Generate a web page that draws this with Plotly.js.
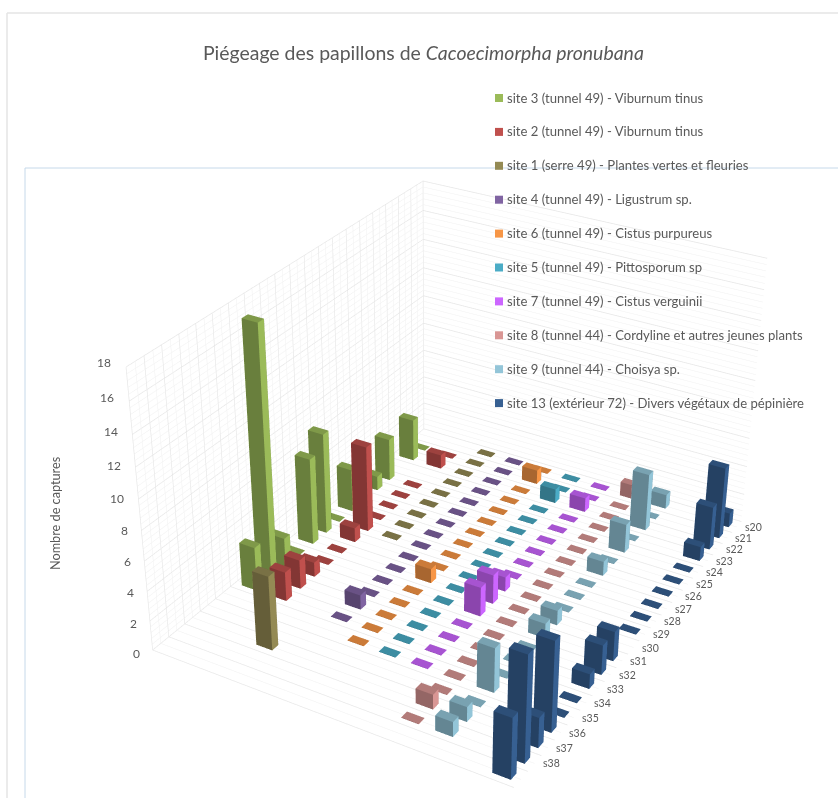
<!DOCTYPE html>
<html><head><meta charset="utf-8">
<script src="https://cdn.plot.ly/plotly-3.0.1.min.js"></script>
<style>html,body{margin:0;padding:0;background:#fff;overflow:hidden;width:838px;height:798px}
#wrap{position:absolute;left:0;top:0;width:838px;height:798px;overflow:hidden}#c{position:absolute}</style>
</head><body><div id="wrap"><div id="c"></div></div>
<script>
const weeks=['s20','s21','s22','s23','s24','s25','s26','s27','s28','s29','s30','s31','s32','s33','s34','s35','s36','s37','s38',''];
const n=null;
const site3 =[n,0,3,n,3,1,n,3,0,7,6,0,2,17,3,n,n,n,n,n];
const site2 =[n,0,1,n,0,0,0,0,6,1,0,0,1,2,2,n,n,n,n,n];
const site1 =[0,0,0,0,0,0,0,0,0,n,n,n,n,n,n,n,n,5,n,n];
const site4 =[0,0,0,0,0,0,0,0,0,0,0,0,0,1,0,n,n,n,n,n];
const site6 =[0,1,0,0,0,0,0,0,0,0,1,0,0,0,0,0,n,n,n,n];
const site5 =[0,0,1,0,0,0,0,0,0,0,0,0,0,0,0,0,n,n,n,n];
const site7 =[0,0,1,0,0,0,0,0,0,1,2,2,0,0,0,0,n,n,n,n];
const site8 =[1,0,0,0,0,0,0,0,0,0,0,0,0,0,0,0,0,1,0,n];
const site9 =[1,0,4,0,2,0,1,0,0,0,1,1,0,0,0,3,0,1,1,n];
const site13=[1,5,3,1,0,0,0,0,0,0,n,2,2,1,0,0,6,2,7,4];
const seriesNames=['site 3 (tunnel 49) - Viburnum tinus','site 2 (tunnel 49) - Viburnum tinus','site 1 (serre 49) - Plantes vertes et fleuries','site 4 (tunnel 49) - Ligustrum sp.','site 6 (tunnel 49) - Cistus purpureus','site 5 (tunnel 49) - Pittosporum sp','site 7 (tunnel 49) - Cistus verguinii','site 8 (tunnel 44) - Cordyline et autres jeunes plants','site 9 (tunnel 44) - Choisya sp.','site 13 (extérieur 72) - Divers végétaux de pépinière'];
const seriesValues=[site3,site2,site1,site4,site6,site5,site7,site8,site9,site13];
const seriesColors=['#9BBB59','#C0504D','#948A54','#8064A2','#F79646','#4BACC6','#CC66FF','#D99694','#93C5D8','#376092'];
const seriesLanes=[0,1,2,3,4,5,6,7,8,10.04];
const zTicks=[0,2,4,6,8,10,12,14,16,18];
const NL=11,NC=20,ZM=18,W=838,H=798;
// The graph is larger than the window: plotly's 3D field of view is fixed, and the reference has a longer lens.
const GS=1558,GL=435-GS/2,GT=472-GS/2;
const el=document.getElementById('c');el.style.left=GL+'px';el.style.top=GT+'px';el.style.width=GS+'px';el.style.height=GS+'px';
const camera={eye:{x:1.5555,y:-2.7223,z:1.8092},center:{x:-0.0278,y:-0.0610,z:-0.0226},up:{x:0.0080,y:0.0016,z:1}};
const aspect={x:0.7826,y:1,z:0.6052};

function shade(hex,k){const v=parseInt(hex.slice(1),16);const c=[v>>16,(v>>8)&255,v&255].map(x=>Math.round(x*k));return'#'+c.map(x=>x.toString(16).padStart(2,'0')).join('')}
const BWX=.26,BWY=.2;
function barsTrace(vals,color,lane,name){const x=[],y=[],z=[],i=[],j=[],k=[],fc=[];
 const front=shade(color,.68),side=color,top=shade(color,.82);
 vals.forEach((v,c)=>{if(v===null)return;const cx=lane+.5,cy=NC-(c+.5),h=v===0?.03:v,b=x.length;
  const a=BWX,d=BWY;
  [[-a,-d,0],[a,-d,0],[a,d,0],[-a,d,0],[-a,-d,h],[a,-d,h],[a,d,h],[-a,d,h]].forEach(q=>{x.push(cx+q[0]);y.push(cy+q[1]);z.push(q[2])});
  [[4,5,6,top],[4,6,7,top],[0,1,5,front],[0,5,4,front],[1,2,6,side],[1,6,5,side],[2,3,7,front],[2,7,6,front],[3,0,4,side],[3,4,7,side]].forEach(t=>{i.push(b+t[0]);j.push(b+t[1]);k.push(b+t[2]);fc.push(t[3])});
 });
 return{type:'mesh3d',name,x,y,z,i,j,k,facecolor:fc,flatshading:true,hoverinfo:'skip',showscale:false,
  lighting:{ambient:1,diffuse:0,specular:0,roughness:1,fresnel:0},lightposition:{x:0,y:0,z:1e4}}}
const traces=seriesValues.map((v,s)=>barsTrace(v,seriesColors[s],seriesLanes[s],seriesNames[s]));

// lighter in-between gridlines on the walls and the floor
const mx=[],my=[],mz=[];
function seg(a,b,c){mx.push(...a,null);my.push(...b,null);mz.push(...c,null)}
for(let q=0;q<NC;q++){const v=q+.5;seg([0,0],[v,v],[0,ZM]);seg([0,NL],[v,v],[0,0])}
for(let q=0;q<ZM;q+=2)for(let s=1;s<5;s++){const v=q+s*.4;seg([0,0],[0,NC],[v,v]);seg([0,NL],[NC,NC],[v,v])}
traces.push({type:'scatter3d',mode:'lines',x:mx,y:my,z:mz,line:{color:'#f1f1f1',width:1},hoverinfo:'skip',showlegend:false,connectgaps:false});

const gridCol='#e6e6e6';
const rng=(a,st)=>{const o=[];for(let q=0;q<=a;q+=st)o.push(q);return o};
const ax=(range,vals,grid)=>({range,autorange:false,tickmode:'array',tickvals:vals,ticktext:vals.map(()=>''),showticklabels:false,ticks:'',title:{text:''},showgrid:grid,gridcolor:gridCol,gridwidth:1.5,zeroline:false,showline:false,showbackground:false,showspikes:false});
const sceneAnn=[];
weeks.forEach((w,c)=>{if(w)sceneAnn.push({x:NL,y:NC-(c+.5),z:0,text:w,showarrow:false,xanchor:'left',yanchor:'middle',xshift:6,yshift:0,font:{family:'Lato',size:10.5,color:'#595959'}})});
zTicks.forEach(v=>sceneAnn.push({x:0,y:0,z:v,text:String(v),showarrow:false,xanchor:'right',yanchor:'middle',xshift:-13+(1-v/18)*2,yshift:v/18*7-3,font:{family:'Lato',size:12,color:'#595959'}}));

const px=v=>(v-GL)/GS,py=v=>1-(v-GT)/GS;
const annotations=[{xref:'paper',yref:'paper',x:px(423),y:py(52),xanchor:'center',yanchor:'middle',showarrow:false,text:'Piégeage des papillons de <i>Cacoecimorpha pronubana</i>',font:{family:'Lato',size:19.45,color:'#595959'}},
 {xref:'paper',yref:'paper',x:px(55),y:py(514),textangle:-90,xanchor:'center',yanchor:'middle',showarrow:false,text:'Nombre de captures',font:{family:'Lato',size:12.7,color:'#595959'}}];
const shapes=[{type:'line',xref:'paper',yref:'paper',x0:px(7),x1:px(7),y0:py(13),y1:py(798),line:{color:'#e4e4e4',width:1.5}},
 {type:'line',xref:'paper',yref:'paper',x0:px(7),x1:px(838),y0:py(13),y1:py(13),line:{color:'#e4e4e4',width:1.5}},
 {type:'line',xref:'paper',yref:'paper',x0:px(25),x1:px(25),y0:py(168),y1:py(798),line:{color:'#c6d9ea',width:1}},
 {type:'line',xref:'paper',yref:'paper',x0:px(25),x1:px(838),y0:py(168),y1:py(168),line:{color:'#c6d9ea',width:1}}];
seriesNames.forEach((s,q)=>{const yy=98+q*33.9;
 shapes.push({type:'rect',xref:'paper',yref:'paper',layer:'above',x0:px(495),x1:px(503),y0:py(yy-4),y1:py(yy+4),fillcolor:seriesColors[q],line:{width:0}});
 annotations.push({xref:'paper',yref:'paper',x:px(504.5),y:py(yy-.5),xanchor:'left',yanchor:'middle',showarrow:false,text:s,font:{family:'Lato',size:13.1,color:'#595959'}})});

Plotly.newPlot('c',traces,{width:GS,height:GS,margin:{l:0,r:0,t:0,b:0},paper_bgcolor:'#fff',showlegend:false,
 scene:{domain:{x:[0,1],y:[0,1]},camera,aspectmode:'manual',aspectratio:aspect,bgcolor:'rgba(0,0,0,0)',
  xaxis:ax([0,NL],rng(NL,1),false),yaxis:ax([0,NC],rng(NC,1),true),zaxis:ax([0,ZM],rng(ZM,2),true),annotations:sceneAnn},
 annotations,shapes},{displayModeBar:false});
</script></body></html>
